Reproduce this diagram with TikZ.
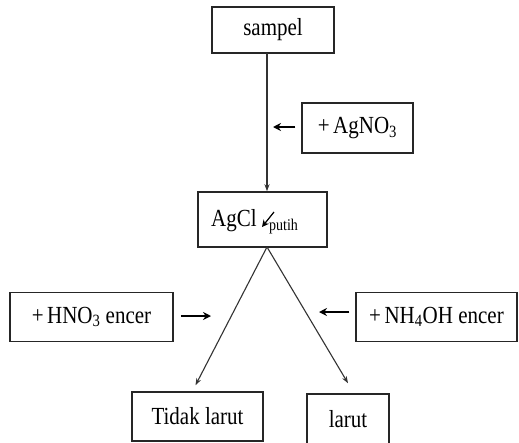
\documentclass[tikz,border=0pt]{standalone}
\usepackage{fontspec}
\usepackage{graphicx}
\setmainfont{Liberation Serif}
\usetikzlibrary{arrows.meta,calc}
\newcommand\tallt[1]{\scalebox{1}[1.17]{#1}}
\begin{document}
\begin{tikzpicture}[x=1pt,y=-1pt,
  box/.style={draw=black!85,line width=1.5pt,inner sep=0pt,font=\fontsize{21}{23}\selectfont},
  conn/.style={draw=black!80,line width=1.1pt,-{Stealth[length=7pt,width=5pt]}},
  short/.style={draw=black,line width=1.4pt,-{Stealth[length=8pt,width=8pt]}}]
\useasboundingbox (0,0) rectangle (519,442);
\fill[white] (0,0) rectangle (519,442);
% boxes
\node[box,minimum width=122,minimum height=46] (sampel) at (273,30) {\tallt{sampel}};
\node[box,minimum width=111,minimum height=50] (agno) at (357.5,128) {\tallt{+\,AgNO\textsubscript{3}}};
\node[box,minimum width=129,minimum height=55] (agcl) at (262.5,219.5) {};
\node[anchor=base west,inner sep=0pt,font=\fontsize{21}{23}\selectfont] (agcltext) at (211,226) {\tallt{AgCl}};
\node[anchor=base west,inner sep=0pt,font=\fontsize{14}{16}\selectfont] (putih) at (269,230) {\tallt{putih}};
\node[box,minimum width=163,minimum height=49] (hno) at (91.5,317) {\tallt{+\,HNO\textsubscript{3} encer}};
\node[box,minimum width=161,minimum height=49] (nh) at (436.5,317) {\tallt{+\,NH\textsubscript{4}OH encer}};
\node[box,minimum width=131,minimum height=49] (tidak) at (197.5,416.5) {\tallt{Tidak larut}};
\node[box,minimum width=82,minimum height=50,yshift=2pt] (larut) at (348,421) {\tallt{larut}};
% coordinates
\coordinate (top) at (267,53);
\coordinate (apex) at (267,247);
\coordinate (aend) at (273,127);
\coordinate (hend) at (211,316);
\coordinate (nend) at (319,312);
\coordinate (pa1) at (274,212);
\coordinate (pa2) at (262,227);
% connectors
\draw[conn] (top) -- (top |- agcl.north);
\draw[conn] (apex) -- ($(tidak.north)+(-2,-6)$);
\draw[conn] (apex) -- ($(larut.north)+(0,-10)$);
\draw[short] ([xshift=-6pt]agno.west |- aend) -- (aend);
\draw[short] ([xshift=7pt]hno.east |- hend) -- (hend);
\draw[short] ([xshift=-6pt]nh.west |- nend) -- (nend);
\draw[short,line width=1.2pt,-{Stealth[length=7pt,width=7pt]}] (pa1) -- (pa2);
\end{tikzpicture}
\end{document}
